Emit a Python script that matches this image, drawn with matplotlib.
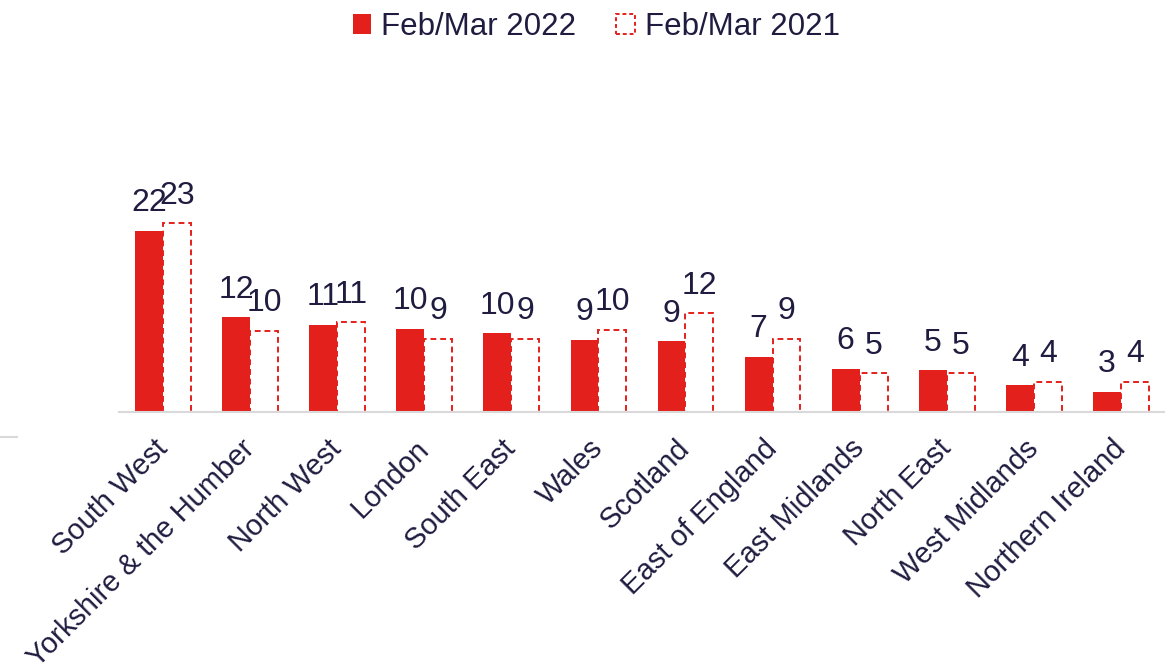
import matplotlib.pyplot as plt
import numpy as np
from matplotlib.patches import Patch
from matplotlib.lines import Line2D

plt.rcParams['font.family'] = ['Liberation Sans', 'DejaVu Sans']

regions = ["South West", "Yorkshire & the Humber", "North West", "London",
           "South East", "Wales", "Scotland", "East of England",
           "East Midlands", "North East", "West Midlands", "Northern Ireland"]
vals_2022 = [22.0, 11.5, 10.6, 10.1, 9.6, 8.8, 8.6, 6.7, 5.3, 5.1, 3.3, 2.5]
vals_2021 = [22.9, 9.9, 10.9, 8.9, 8.9, 10.0, 12.0, 8.9, 4.7, 4.7, 3.7, 3.7]
labels_2022 = ["22", "12", "11", "10", "10", "9", "9", "7", "6", "5", "4", "3"]
labels_2021 = ["23", "10", "11", "9", "9", "10", "12", "9", "5", "5", "4", "4"]

red = "#e3201b"
navy = "#1f1c40"

fig = plt.figure(figsize=(11.71, 6.66), dpi=100)
ax = fig.add_axes([0.102, 0.381, 0.8924, 0.322])

xs = np.arange(len(regions))
w = 0.32
b1 = ax.bar(xs - w / 2, vals_2022, w, color=red, linewidth=0)
b2 = ax.bar(xs + w / 2, vals_2021, w, fill=False, edgecolor=red,
            linewidth=1.4, linestyle=(0, (3, 2)))

# data labels
for rect, lab in zip(b1, labels_2022):
    ax.annotate(lab, (rect.get_x() + rect.get_width() / 2, rect.get_height()),
                xytext=(0, 9), textcoords="offset points", ha="center",
                va="bottom", fontsize=23, color=navy)
for rect, lab in zip(b2, labels_2021):
    ax.annotate(lab, (rect.get_x() + rect.get_width() / 2, rect.get_height()),
                xytext=(0, 9), textcoords="offset points", ha="center",
                va="bottom", fontsize=23, color=navy)

ax.set_xlim(-0.5, len(regions) - 0.5)
ax.set_ylim(0, 26)
ax.set_xticks(xs)
ax.set_xticklabels(regions, rotation=45, ha="right", va="center",
                   rotation_mode="anchor", fontsize=21, color=navy)
ax.tick_params(axis="x", length=0, pad=23)
ax.set_yticks([])
for s in ["top", "right", "left"]:
    ax.spines[s].set_visible(False)
ax.spines["bottom"].set_color("#d9d9d9")
ax.spines["bottom"].set_linewidth(1.5)

# stray line at far left
fig.add_artist(Line2D([0, 17 / 1171], [1 - 437 / 666, 1 - 437 / 666],
                      color="#d9d9d9", linewidth=1.5))

handles = [Patch(facecolor=red, edgecolor=red, linewidth=0),
           Patch(facecolor="white", edgecolor=red, linewidth=1.4,
                 linestyle=(0, (2, 1.5)))]
fig.legend(handles, ["Feb/Mar 2022", "Feb/Mar 2021"], loc="upper center",
           bbox_to_anchor=(0.509, 1.024), ncol=2, frameon=False, fontsize=22.5,
           handlelength=0.6, handleheight=0.6, handletextpad=0.3,
           columnspacing=1.3, labelcolor=navy)

fig.savefig("out.png", dpi=100)
